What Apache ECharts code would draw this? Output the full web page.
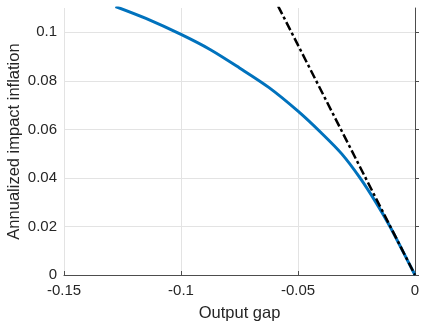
<!DOCTYPE html>
<html><head><meta charset="utf-8">
<script src="https://cdn.jsdelivr.net/npm/echarts@6/dist/echarts.min.js"></script>
<style>html,body{margin:0;padding:0;background:#fff}#c{width:421px;height:322px}</style>
</head><body><div id="c"></div>
<script>
const curveX = [-0.128, -0.115, -0.1, -0.0876, -0.075, -0.0625, -0.05, -0.04, -0.0313, -0.0235, -0.0165, -0.0107, -0.005, 0];
const curveY = [0.1106, 0.1057, 0.0991, 0.0929, 0.0853, 0.0773, 0.0675, 0.0585, 0.0499, 0.0400, 0.0296, 0.0200, 0.0094, 0];
const lineX = [-0.0585, 0];
const lineY = [0.1108, 0];
const xTicks = [-0.15, -0.1, -0.05, 0];
const yTicks = [0, 0.02, 0.04, 0.06, 0.08, 0.1];

const font = 'Liberation Sans, Arial, sans-serif';
const chart = echarts.init(document.getElementById('c'));
chart.setOption({
  animation: false,
  grid: {left: 64, right: 6, top: 8, bottom: 47, containLabel: false, outerBoundsMode: 'none'},
  xAxis: {
    type: 'value', min: -0.15, max: 0, interval: 0.05,
    name: 'Output gap', nameLocation: 'middle', nameGap: 30, nameMoveOverlap: false,
    nameTextStyle: {fontFamily: font, fontSize: 16.5, color: '#262626'},
    axisLine: {onZero: false, lineStyle: {color: '#4d4d4d', width: 1}},
    axisTick: {inside: true, length: 4, lineStyle: {color: '#4d4d4d'}},
    axisLabel: {fontFamily: font, fontSize: 15, color: '#262626', margin: 8,
      formatter: v => { const t = xTicks.find(k => Math.abs(k - v) < 1e-9); return t === undefined ? '' : String(t); }},
    splitLine: {show: true, lineStyle: {color: '#e3e3e3', width: 1}}
  },
  yAxis: {
    type: 'value', min: 0, max: 0.11, interval: 0.02,
    name: 'Annualized impact inflation', nameLocation: 'middle', nameGap: 41, nameMoveOverlap: false,
    nameTextStyle: {fontFamily: font, fontSize: 16.5, color: '#262626'},
    axisLine: {show: true, lineStyle: {color: '#4d4d4d', width: 1}},
    axisTick: {show: true, inside: true, length: 4, lineStyle: {color: '#4d4d4d'}},
    axisLabel: {fontFamily: font, fontSize: 15, color: '#262626', margin: 7, showMaxLabel: false,
      formatter: v => { const t = yTicks.find(k => Math.abs(k - v) < 1e-9); return t === undefined ? '' : String(t); }},
    splitLine: {show: true, showMaxLine: false, lineStyle: {color: '#e3e3e3', width: 1}}
  },
  series: [
    {type: 'line', data: curveX.map((x, i) => [x, curveY[i]]), smooth: 0.3, showSymbol: false,
     lineStyle: {color: '#0072BD', width: 3}, z: 2},
    {type: 'line', data: lineX.map((x, i) => [x, lineY[i]]), showSymbol: false,
     lineStyle: {color: '#000', width: 2.5, type: [9, 3, 3, 3]}, z: 3}
  ]
});
</script></body></html>
